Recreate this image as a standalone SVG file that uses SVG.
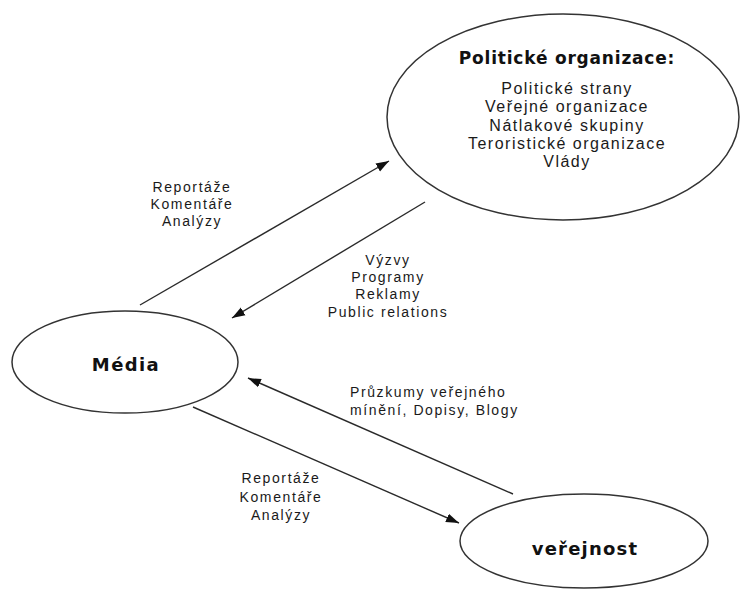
<svg xmlns="http://www.w3.org/2000/svg" width="741" height="592" viewBox="0 0 741 592">
<style>
.node{fill:#fff;stroke:#333;stroke-width:1.5}
.conn{stroke:#2a2a2a;stroke-width:1.4;fill:none;marker-end:url(#ah)}
.t{font-family:"Liberation Sans",Arial,sans-serif;font-size:14px;letter-spacing:1.6px;fill:#1a1a1a}
.tb{font-family:"DejaVu Sans",Verdana,sans-serif;font-weight:bold;fill:#111}
.it{font-family:"Liberation Sans",Arial,sans-serif;font-size:16px;letter-spacing:1.5px;fill:#1a1a1a}
</style>
<defs>
<marker id="ah" markerUnits="userSpaceOnUse" markerWidth="14" markerHeight="10" refX="13" refY="5" orient="auto">
<path d="M0,0.5 L13,5 L0,9.5 Z" fill="#111"/>
</marker>
</defs>
<rect width="741" height="592" fill="#fff"/>
<g id="connectors">
<line class="conn" x1="140" y1="305" x2="389" y2="161"/>
<line class="conn" x1="425" y1="202" x2="232" y2="318"/>
<line class="conn" x1="513" y1="494" x2="248" y2="378"/>
<line class="conn" x1="193" y1="407" x2="459" y2="523"/>
</g>
<g id="politicke">
<ellipse class="node" cx="563" cy="117" rx="176" ry="103"/>
<text class="tb" x="567" y="64" font-size="17" letter-spacing="0.8" text-anchor="middle">Politické organizace:</text>
<text class="it" text-anchor="middle"><tspan x="567" y="94">Politické strany</tspan><tspan x="567" y="112">Veřejné organizace</tspan><tspan x="567" y="131">Nátlakové skupiny</tspan><tspan x="567" y="149">Teroristické organizace</tspan><tspan x="567" y="167">Vlády</tspan></text>
</g>
<g id="media">
<ellipse class="node" cx="125" cy="362" rx="113" ry="51"/>
<text class="tb" x="126" y="371" font-size="18" letter-spacing="1.4" text-anchor="middle">Média</text>
</g>
<g id="verejnost">
<ellipse class="node" cx="584" cy="541" rx="124" ry="47"/>
<text class="tb" x="585" y="555" font-size="18" letter-spacing="1.2" text-anchor="middle">veřejnost</text>
</g>
<g id="labels">
<text class="t" text-anchor="middle"><tspan x="192" y="192">Reportáže</tspan><tspan x="192" y="209">Komentáře</tspan><tspan x="192" y="226">Analýzy</tspan></text>
<text class="t" text-anchor="middle"><tspan x="388" y="265">Výzvy</tspan><tspan x="388" y="282">Programy</tspan><tspan x="388" y="299">Reklamy</tspan><tspan x="388" y="317">Public relations</tspan></text>
<text class="t"><tspan x="350" y="397">Průzkumy veřejného</tspan><tspan x="350" y="415">mínění, Dopisy, Blogy</tspan></text>
<text class="t" text-anchor="middle"><tspan x="281" y="483">Reportáže</tspan><tspan x="281" y="502">Komentáře</tspan><tspan x="281" y="520">Analýzy</tspan></text>
</g>
</svg>
